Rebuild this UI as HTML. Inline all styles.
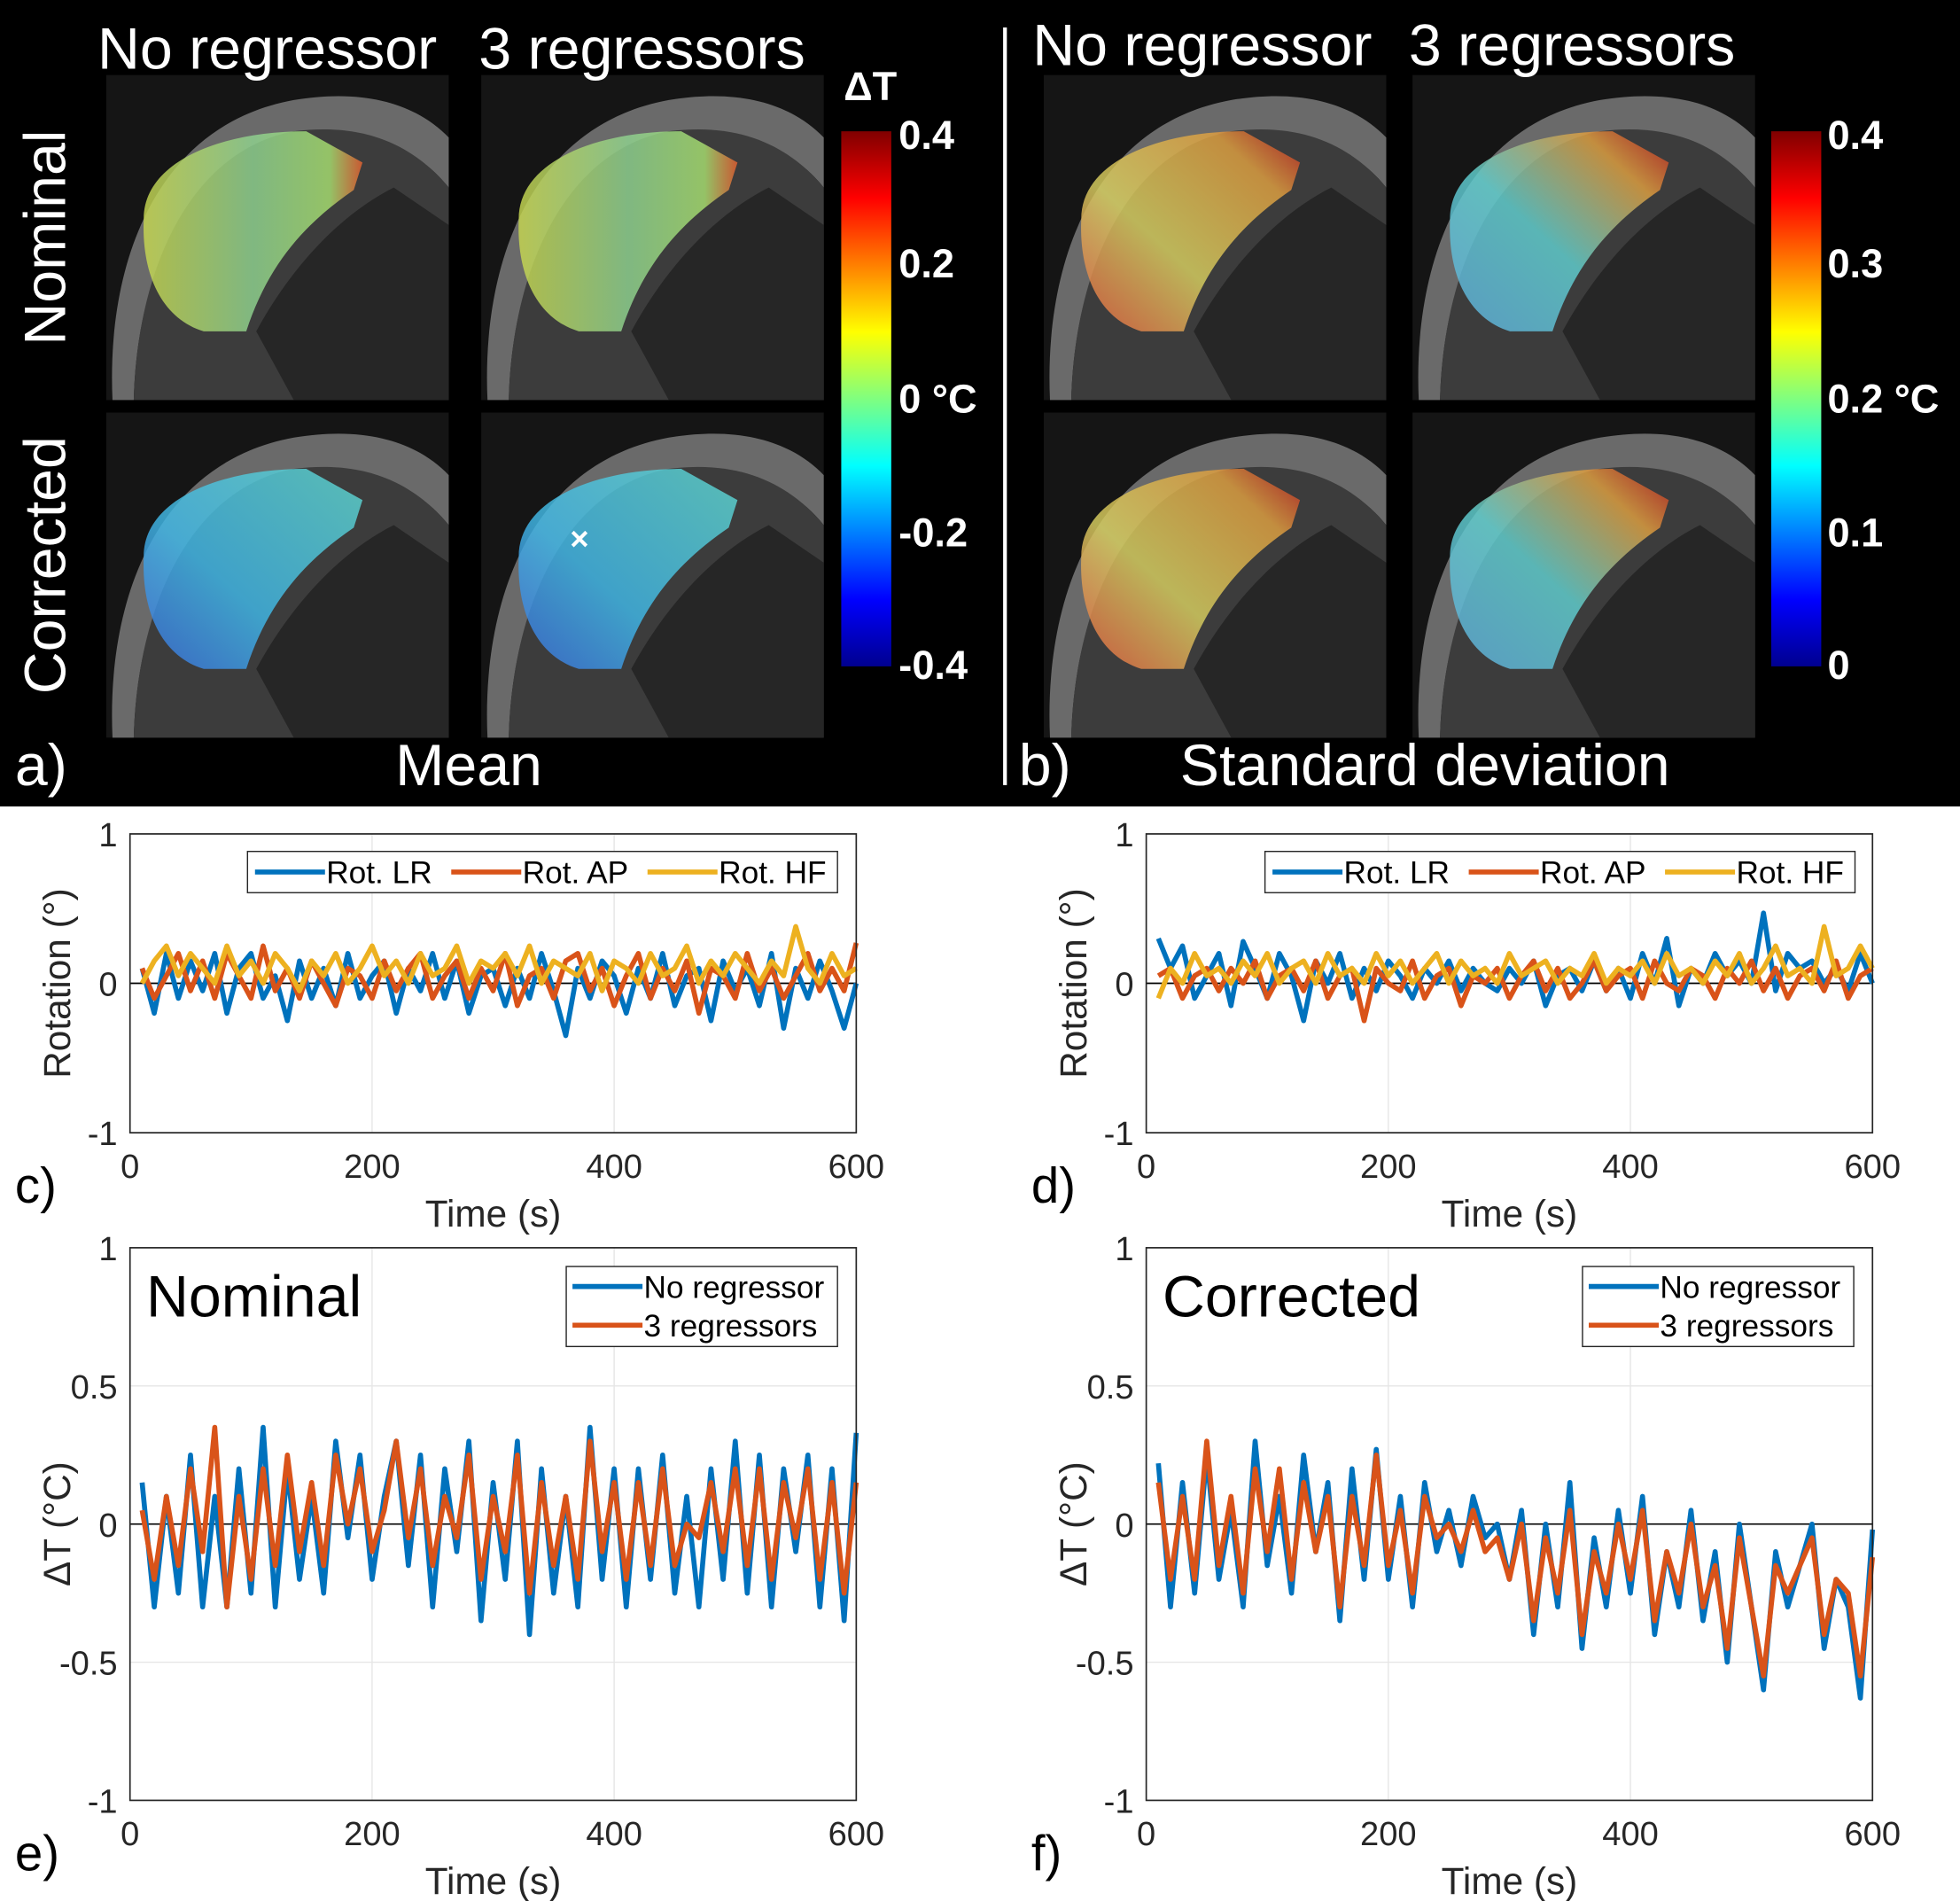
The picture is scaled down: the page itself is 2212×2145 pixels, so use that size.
<!DOCTYPE html>
<html><head><meta charset="utf-8"><style>
html,body{margin:0;padding:0;background:#fff}
svg{display:block;font-family:"Liberation Sans",Arial,sans-serif}
</style></head><body>
<svg id="fig" width="2212" height="2145" viewBox="0 0 1568 1520.5" xmlns="http://www.w3.org/2000/svg">
<defs>
<linearGradient id="jet" x1="0" y1="1" x2="0" y2="0">
<stop offset="0" stop-color="#00008f"/><stop offset="0.125" stop-color="#0000ff"/><stop offset="0.375" stop-color="#00ffff"/><stop offset="0.625" stop-color="#ffff00"/><stop offset="0.875" stop-color="#ff0000"/><stop offset="1" stop-color="#800000"/>
</linearGradient>
<linearGradient id="gNom" x1="0" y1="0" x2="1" y2="0"><stop offset="0" stop-color="#c8d850"/><stop offset="0.5" stop-color="#8fd390"/><stop offset="0.85" stop-color="#a8e070"/><stop offset="1" stop-color="#e86030"/></linearGradient>
<linearGradient id="gCor" x1="0" y1="1" x2="1" y2="0"><stop offset="0" stop-color="#3a70e0"/><stop offset="0.4" stop-color="#40b8e8"/><stop offset="1" stop-color="#60d8d0"/></linearGradient>
<linearGradient id="gSd1" x1="0" y1="1" x2="1" y2="0"><stop offset="0" stop-color="#e86040"/><stop offset="0.4" stop-color="#d8d060"/><stop offset="0.8" stop-color="#e0a040"/><stop offset="1" stop-color="#c02020"/></linearGradient>
<linearGradient id="gSd2" x1="0" y1="1" x2="1" y2="0"><stop offset="0" stop-color="#60b0e0"/><stop offset="0.45" stop-color="#60d0d0"/><stop offset="0.8" stop-color="#e0a040"/><stop offset="1" stop-color="#c02020"/></linearGradient>
</defs>
<rect x="0" y="0" width="1568" height="645" fill="#000"/>
<g id="tiles"></g>
<g fill="#fff" font-size="47">
<text x="78" y="55">No regressor</text>
<text x="383" y="55">3 regressors</text>
<text x="826" y="52">No regressor</text>
<text x="1127" y="52">3 regressors</text>
<text transform="translate(52,190) rotate(-90)" text-anchor="middle">Nominal</text>
<text transform="translate(52,452) rotate(-90)" text-anchor="middle">Corrected</text>
<text x="12" y="628">a)</text>
<text x="375" y="628" text-anchor="middle">Mean</text>
<text x="815" y="628">b)</text>
<text x="1140" y="628" text-anchor="middle">Standard deviation</text>
</g>
<line x1="804" y1="22" x2="804" y2="628" stroke="#fff" stroke-width="3"/>
<rect x="673" y="105" width="40" height="428" fill="url(#jet)"/>
<rect x="1417" y="105" width="40" height="428" fill="url(#jet)"/>
<g fill="#fff" font-size="32" font-weight="bold">
<text x="675" y="80">ΔT</text>
<text x="719" y="119">0.4</text>
<text x="719" y="222">0.2</text>
<text x="719" y="330">0 °C</text>
<text x="719" y="437">-0.2</text>
<text x="719" y="543">-0.4</text>
<text x="1462" y="119">0.4</text>
<text x="1462" y="222">0.3</text>
<text x="1462" y="330">0.2 °C</text>
<text x="1462" y="437">0.1</text>
<text x="1462" y="543">0</text>
</g>
<g id="charts"></g>
</svg>
<script>
// ---- chart data (time step 10 s, t = 10..600) ----
const timeTicks=[0,200,400,600];
const rotTicks=[-1,0,1];
const dtTicks=[-1,-0.5,0,0.5,1];
const cRotLR=[0.1,-0.2,0.2,-0.1,0.15,-0.05,0.2,-0.2,0.1,0.2,-0.1,0.05,-0.25,0.15,-0.1,0.1,-0.15,0.2,-0.1,0.05,0.15,-0.2,0.1,-0.05,0.2,-0.1,0.15,-0.2,0.05,0.1,-0.15,0.1,-0.1,0.2,-0.05,-0.35,0.1,-0.1,0.15,0.05,-0.2,0.1,-0.1,0.2,-0.15,0.05,0.1,-0.25,0.15,-0.05,0.1,-0.15,0.2,-0.3,0.1,-0.1,0.15,-0.05,-0.3,0.0];
const cRotAP=[0.1,-0.1,0.05,0.2,-0.05,0.15,-0.1,0.2,0.05,-0.1,0.25,-0.05,0.1,-0.1,0.15,0.0,-0.15,0.1,0.05,-0.1,0.15,-0.05,0.1,0.2,-0.1,0.05,0.15,-0.1,0.1,-0.05,0.2,-0.15,0.05,0.1,-0.1,0.15,0.2,-0.05,0.1,-0.15,0.05,0.2,-0.1,0.1,-0.05,0.15,-0.2,0.1,0.05,-0.1,0.2,-0.05,0.1,-0.1,0.05,0.2,-0.05,0.1,-0.05,0.27];
const cRotHF=[0.0,0.15,0.25,0.05,0.2,0.1,0.0,0.25,0.05,0.15,0.0,0.2,0.1,-0.05,0.15,0.05,0.2,0.0,0.1,0.25,0.05,0.15,0.0,0.2,0.05,0.1,0.25,0.0,0.15,0.1,0.2,0.05,0.25,0.0,0.15,0.1,0.05,0.2,-0.05,0.15,0.1,0.0,0.2,0.05,0.1,0.25,0.0,0.15,0.05,0.2,0.1,0.0,0.15,0.05,0.38,0.1,0.0,0.2,0.05,0.1];
const dRotLR=[0.3,0.1,0.25,-0.1,0.05,0.2,-0.15,0.28,0.1,-0.1,0.2,0.05,-0.25,0.15,0.0,0.2,-0.1,0.1,-0.05,0.15,0.05,-0.1,0.1,0.0,0.15,-0.05,0.1,0.0,-0.05,0.1,0.0,0.15,-0.15,0.05,0.1,-0.05,0.15,-0.05,0.1,-0.1,0.2,0.0,0.3,-0.15,0.1,0.0,0.2,0.05,0.15,0.0,0.47,-0.05,0.2,0.1,0.15,0.0,0.1,-0.05,0.2,0.0];
const dRotAP=[0.05,0.1,-0.1,0.05,0.1,-0.05,0.1,0.0,0.15,-0.1,0.05,0.1,-0.05,0.15,-0.1,0.05,0.1,-0.25,0.1,0.0,-0.05,0.15,-0.1,0.05,0.1,-0.15,0.05,0.0,0.1,-0.1,0.05,0.15,-0.05,0.1,-0.1,0.0,0.15,-0.05,0.05,0.1,-0.1,0.15,0.0,-0.05,0.1,0.05,-0.1,0.1,0.0,0.15,-0.05,0.1,-0.1,0.05,0.1,-0.05,0.15,-0.1,0.05,0.1];
const dRotHF=[-0.1,0.1,0.0,0.2,0.05,0.1,0.0,0.15,0.05,0.2,0.0,0.1,0.15,0.0,0.2,0.05,0.1,0.0,0.2,0.05,0.15,0.0,0.1,0.2,0.0,0.15,0.05,0.1,0.0,0.2,0.05,0.1,0.15,0.0,0.1,0.05,0.2,0.0,0.1,0.05,0.15,0.0,0.2,0.05,0.1,0.0,0.15,0.05,0.2,0.0,0.1,0.25,0.05,0.1,0.0,0.38,0.05,0.1,0.25,0.1];
const eNoReg=[0.15,-0.3,0.1,-0.25,0.25,-0.3,0.1,-0.3,0.2,-0.25,0.35,-0.3,0.2,-0.2,0.1,-0.25,0.3,-0.05,0.25,-0.2,0.1,0.3,-0.15,0.25,-0.3,0.2,-0.1,0.3,-0.35,0.15,-0.2,0.3,-0.4,0.2,-0.25,0.1,-0.3,0.35,-0.2,0.2,-0.3,0.2,-0.2,0.25,-0.25,0.1,-0.3,0.2,-0.2,0.3,-0.25,0.25,-0.3,0.2,-0.1,0.25,-0.3,0.2,-0.35,0.33];
const eReg3=[0.05,-0.2,0.1,-0.15,0.2,-0.1,0.35,-0.3,0.1,-0.2,0.2,-0.15,0.25,-0.1,0.15,-0.15,0.25,0.0,0.2,-0.1,0.05,0.3,-0.05,0.2,-0.15,0.1,-0.05,0.25,-0.2,0.1,-0.1,0.25,-0.25,0.15,-0.15,0.1,-0.2,0.3,-0.1,0.15,-0.2,0.15,-0.15,0.2,-0.15,0.0,-0.05,0.15,-0.1,0.2,-0.15,0.2,-0.2,0.15,-0.05,0.2,-0.2,0.15,-0.25,0.15];
const fNoReg=[0.22,-0.3,0.15,-0.25,0.25,-0.2,0.05,-0.3,0.3,-0.15,0.1,-0.25,0.25,-0.1,0.15,-0.35,0.2,-0.2,0.27,-0.2,0.1,-0.3,0.15,-0.1,0.05,-0.15,0.1,-0.05,0.0,-0.2,0.05,-0.4,0.0,-0.3,0.15,-0.45,-0.05,-0.3,0.05,-0.25,0.1,-0.4,-0.1,-0.3,0.05,-0.35,-0.1,-0.5,0.0,-0.3,-0.6,-0.1,-0.3,-0.15,0.0,-0.45,-0.2,-0.3,-0.63,-0.02];
const fReg3=[0.15,-0.2,0.1,-0.2,0.3,-0.15,0.1,-0.25,0.2,-0.1,0.2,-0.2,0.15,-0.1,0.1,-0.3,0.1,-0.15,0.25,-0.15,0.05,-0.25,0.1,-0.05,0.0,-0.1,0.05,-0.1,-0.05,-0.2,0.0,-0.35,-0.05,-0.25,0.05,-0.4,-0.1,-0.25,0.0,-0.2,0.05,-0.35,-0.1,-0.25,0.0,-0.3,-0.15,-0.45,-0.05,-0.3,-0.55,-0.15,-0.25,-0.15,-0.05,-0.4,-0.2,-0.25,-0.55,-0.12];

const NS="http://www.w3.org/2000/svg";
function mk(tag,attrs,parent){const e=document.createElementNS(NS,tag);for(const k in attrs)e.setAttribute(k,attrs[k]);parent.appendChild(e);return e;}

// ---- image tiles ----
const tilesG=document.getElementById('tiles');
const tiles=[[85,60,'url(#gNom)'],[385,60,'url(#gNom)'],[85,330,'url(#gCor)'],[385,330,'url(#gCor)'],[835,60,'url(#gSd1)'],[1130,60,'url(#gSd2)'],[835,330,'url(#gSd1)'],[1130,330,'url(#gSd2)']];
tiles.forEach(t=>{
  const g=mk('g',{transform:`translate(${t[0]},${t[1]})`},tilesG);
  
  
  mk('rect',{x:0,y:0,width:274,height:260,fill:'#151515'},g);
  mk('path',{d:'M5,260 C0,150 40,40 150,20 C210,10 250,25 274,50 L274,90 C250,60 215,45 160,45 C80,55 25,140 22,260 Z',fill:'#6a6a6a'},g);
  mk('path',{d:'M22,260 C25,150 70,60 150,45 C205,38 245,55 274,90 L274,260 Z',fill:'#3c3c3c'},g);
  mk('path',{d:'M120,205 C150,150 190,110 230,90 L274,120 L274,260 L150,260 Z',fill:'#262626'},g);
  mk('path',{d:'M30,115 C30,70 90,45 160,45 L205,70 L198,92 C160,118 130,150 112,205 L78,205 C45,195 28,160 30,115 Z',fill:t[2],opacity:0.82},g);
});
const xm=mk('text',{x:456,y:440,fill:'#fff','font-size':26,'font-weight':'bold'},tilesG);
xm.textContent='×';



// ---- charts ----
const chartsG=document.getElementById('charts');
const COLORS=['#0072BD','#D95319','#EDB120'];
function chart(o){
  const g=mk('g',{},chartsG);
  
  
  const X=t=>o.x0+(t/600)*(o.x1-o.x0);
  const Y=v=>o.yb+(v-o.ymin)/(o.ymax-o.ymin)*(o.yt-o.yb);
  mk('rect',{x:o.x0,y:o.yt,width:o.x1-o.x0,height:o.yb-o.yt,fill:'#fff'},g);
  timeTicks.forEach(t=>{mk('line',{x1:X(t),x2:X(t),y1:o.yt,y2:o.yb,stroke:'#e6e6e6','stroke-width':1},g);
    const tx=mk('text',{x:X(t),y:o.yb+36,'font-size':27,'text-anchor':'middle',fill:'#262626'},g);tx.textContent=t;
    });
  o.yticks.forEach(v=>{mk('line',{x1:o.x0,x2:o.x1,y1:Y(v),y2:Y(v),stroke:'#e6e6e6','stroke-width':1},g);
    const tx=mk('text',{x:o.x0-10,y:Y(v)+10,'font-size':27,'text-anchor':'end',fill:'#262626'},g);tx.textContent=v;
    });
  mk('line',{x1:o.x0,x2:o.x1,y1:Y(0),y2:Y(0),stroke:'#000','stroke-width':1.2},g);
  o.series.forEach((s,i)=>{
    const pts=s.map((v,k)=>X((k+1)*10).toFixed(1)+','+Y(v).toFixed(1)).join(' ');
    const pl=mk('polyline',{points:pts,fill:'none',stroke:COLORS[i],'stroke-width':4,'stroke-linejoin':'round'},g);
    
    
  });
  mk('rect',{x:o.x0,y:o.yt,width:o.x1-o.x0,height:o.yb-o.yt,fill:'none',stroke:'#262626','stroke-width':1.2},g);
  const xl=mk('text',{x:(o.x0+o.x1)/2,y:o.yb+75,'font-size':30,'text-anchor':'middle',fill:'#262626'},g);xl.textContent='Time (s)';
  
  const yl=mk('text',{transform:`translate(${o.x0-48},${(o.yt+o.yb)/2}) rotate(-90)`,'font-size':30,'text-anchor':'middle',fill:'#262626'},g);yl.textContent=o.ylabel;
  
  const pl=mk('text',{x:o.x0-92,y:o.yb+56,'font-size':40,fill:'#000'},g);pl.textContent=o.panel;
  
  if(o.big){const b=mk('text',{x:o.x0+13,y:o.yt+55,'font-size':47,fill:'#000'},g);b.textContent=o.big;
    }
  const lg=mk('g',{},g);
  
  
  mk('rect',{x:o.lx,y:o.ly,width:o.lw,height:o.lh,fill:'#fff',stroke:'#262626','stroke-width':1},lg);
  o.labels.forEach((l,i)=>{
    const ex=o.horiz?o.lx+6+i*157:o.lx+5, ey=o.horiz?o.ly+o.lh/2:o.ly+16+i*31;
    mk('line',{x1:ex,x2:ex+56,y1:ey,y2:ey,stroke:COLORS[i],'stroke-width':4},lg);
    const t=mk('text',{x:ex+57,y:ey+9,'font-size':25,fill:'#000'},lg);t.textContent=l;
    
  });
}
chart({name:'chart-c-rotation',x0:104,x1:685,yt:667,yb:906,ymin:-1,ymax:1,yticks:rotTicks,ylabel:'Rotation (°)',panel:'c)',series:[cRotLR,cRotAP,cRotHF],labels:['Rot. LR','Rot. AP','Rot. HF'],horiz:true,lx:198,ly:681,lw:472,lh:33});
chart({name:'chart-d-rotation',x0:917,x1:1498,yt:667,yb:906,ymin:-1,ymax:1,yticks:rotTicks,ylabel:'Rotation (°)',panel:'d)',series:[dRotLR,dRotAP,dRotHF],labels:['Rot. LR','Rot. AP','Rot. HF'],horiz:true,lx:1012,ly:681,lw:472,lh:33});
chart({name:'chart-e-nominal',x0:104,x1:685,yt:998,yb:1440,ymin:-1,ymax:1,yticks:dtTicks,ylabel:'ΔT (°C)',panel:'e)',big:'Nominal',series:[eNoReg,eReg3],labels:['No regressor','3 regressors'],horiz:false,lx:453,ly:1013,lw:217,lh:64});
chart({name:'chart-f-corrected',x0:917,x1:1498,yt:998,yb:1440,ymin:-1,ymax:1,yticks:dtTicks,ylabel:'ΔT (°C)',panel:'f)',big:'Corrected',series:[fNoReg,fReg3],labels:['No regressor','3 regressors'],horiz:false,lx:1266,ly:1013,lw:217,lh:64});
</script>
</body></html>
